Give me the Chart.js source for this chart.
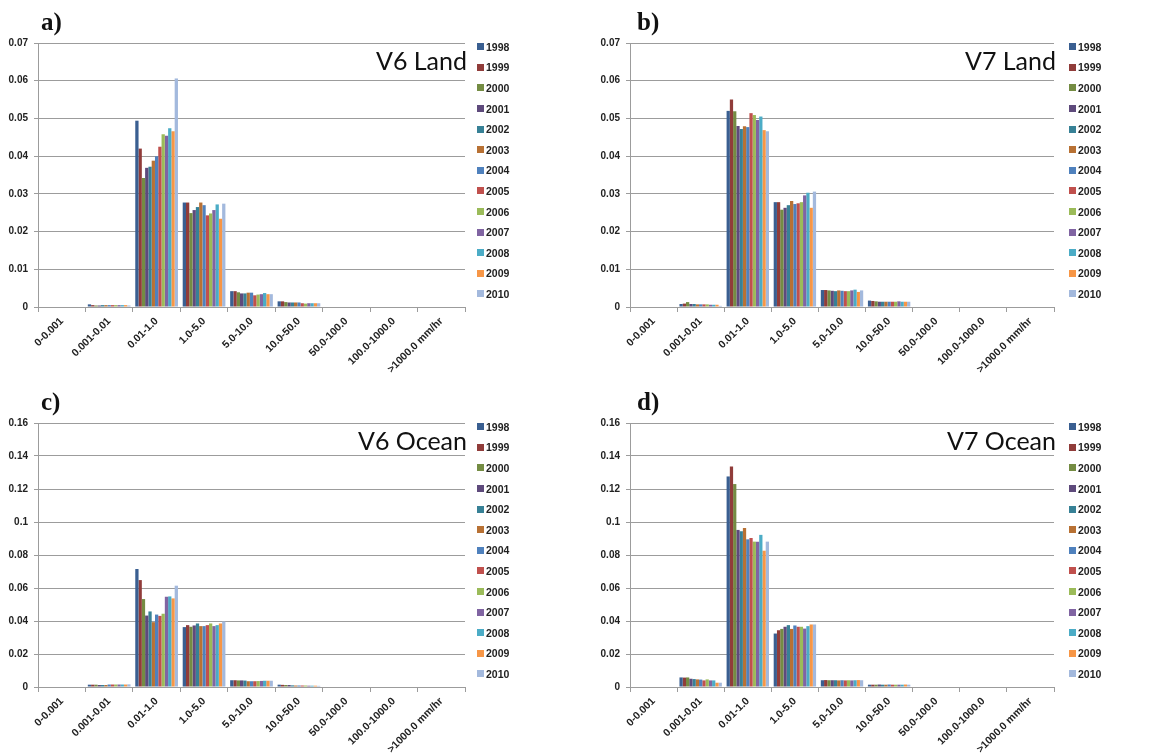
<!DOCTYPE html>
<html>
<head>
<meta charset="utf-8">
<script src="https://cdn.jsdelivr.net/npm/chart.js@4"></script>
<style>
  body { margin: 0; background: #fff; width: 1163px; height: 756px; overflow: hidden; position: relative; }
  .panel { position: absolute; }
  .panel canvas { position: absolute; left: 0; top: 0; }
  .tag { position: absolute; font: bold 25px "Liberation Serif", serif; color: #111; line-height: 1; }
  .legend { position: absolute; list-style: none; margin: 0; padding: 0; }
  .legend li { height: 20.6px; display: flex; align-items: center; font: bold 10.5px "Liberation Sans", sans-serif; color: #222; }
  .legend li span { display: inline-block; width: 7px; height: 7px; margin-right: 2px; }
</style>
</head>
<body>
<div class="panel" id="pa" style="left:0;top:0;width:580px;height:376px"><canvas id="ca" width="580" height="376"></canvas></div>
<div class="panel" id="pb" style="left:580px;top:0;width:583px;height:376px"><canvas id="cb" width="583" height="376"></canvas></div>
<div class="panel" id="pc" style="left:0;top:380px;width:580px;height:376px"><canvas id="cc" width="580" height="376"></canvas></div>
<div class="panel" id="pd" style="left:580px;top:380px;width:583px;height:376px"><canvas id="cd" width="583" height="376"></canvas></div>

<script>
const bins = ['0-0.001', '0.001-0.01', '0.01-1.0', '1.0-5.0', '5.0-10.0', '10.0-50.0', '50.0-100.0', '100.0-1000.0', '>1000.0 mm/hr'];
const years = ['1998', '1999', '2000', '2001', '2002', '2003', '2004', '2005', '2006', '2007', '2008', '2009', '2010'];
const colors = ['#3a5f91', '#903c3a', '#748c43', '#5e4a7c', '#378196', '#b87134',
                '#4f81bd', '#c0504d', '#9bbb59', '#8064a2', '#4bacc6', '#f79646', '#a3b9dd'];

// bins with no rain in any year
const empty = [0, 0, 0, 0, 0, 0, 0, 0, 0, 0, 0, 0, 0];

// V6 Land, one value per year
const v6Land_001 = [0.0007, 0.0005, 0.0004, 0.0004, 0.0005, 0.0005, 0.0005, 0.0005, 0.0005, 0.0005, 0.0005, 0.0005, 0.0004];
const v6Land_1   = [0.0494, 0.0420, 0.0342, 0.0369, 0.0372, 0.0388, 0.0400, 0.0425, 0.0458, 0.0454, 0.0474, 0.0466, 0.0606];
const v6Land_5   = [0.0277, 0.0277, 0.0249, 0.0257, 0.0265, 0.0277, 0.0270, 0.0243, 0.0248, 0.0257, 0.0272, 0.0234, 0.0274];
const v6Land_10  = [0.0042, 0.0042, 0.0039, 0.0036, 0.0036, 0.0038, 0.0038, 0.0031, 0.0033, 0.0034, 0.0037, 0.0034, 0.0034];
const v6Land_50  = [0.0015, 0.0015, 0.0013, 0.0012, 0.0012, 0.0012, 0.0012, 0.0010, 0.0009, 0.0010, 0.0010, 0.0010, 0.0010];

// V7 Land
const v7Land_001 = [0.0008, 0.0009, 0.0013, 0.0008, 0.0008, 0.0007, 0.0007, 0.0007, 0.0007, 0.0006, 0.0006, 0.0006, 0.0003];
const v7Land_1   = [0.0520, 0.0550, 0.0519, 0.0480, 0.0472, 0.0479, 0.0477, 0.0514, 0.0509, 0.0496, 0.0505, 0.0469, 0.0466];
const v7Land_5   = [0.0278, 0.0278, 0.0258, 0.0263, 0.0270, 0.0281, 0.0273, 0.0275, 0.0278, 0.0296, 0.0303, 0.0263, 0.0306];
const v7Land_10  = [0.0045, 0.0045, 0.0044, 0.0043, 0.0042, 0.0044, 0.0043, 0.0042, 0.0042, 0.0044, 0.0046, 0.0040, 0.0044];
const v7Land_50  = [0.0017, 0.0016, 0.0015, 0.0014, 0.0014, 0.0014, 0.0014, 0.0014, 0.0014, 0.0015, 0.0014, 0.0014, 0.0014];

// V6 Ocean
const v6Ocean_001 = [0.0014, 0.0014, 0.0014, 0.0012, 0.0012, 0.0012, 0.0015, 0.0015, 0.0015, 0.0015, 0.0015, 0.0015, 0.0016];
const v6Ocean_1   = [0.0715, 0.0648, 0.0533, 0.0433, 0.0458, 0.0393, 0.0439, 0.0431, 0.0444, 0.0547, 0.0549, 0.0537, 0.0614];
const v6Ocean_5   = [0.0363, 0.0375, 0.0365, 0.0373, 0.0385, 0.0369, 0.0369, 0.0375, 0.0385, 0.0369, 0.0375, 0.0385, 0.0397];
const v6Ocean_10  = [0.0041, 0.0041, 0.0040, 0.0040, 0.0039, 0.0035, 0.0035, 0.0035, 0.0036, 0.0037, 0.0038, 0.0038, 0.0038];
const v6Ocean_50  = [0.0014, 0.0013, 0.0012, 0.0012, 0.0010, 0.0009, 0.0009, 0.0009, 0.0009, 0.0008, 0.0008, 0.0008, 0.0007];

// V7 Ocean
const v7Ocean_001 = [0.0058, 0.0057, 0.0058, 0.0050, 0.0048, 0.0046, 0.0045, 0.0040, 0.0046, 0.0040, 0.0040, 0.0026, 0.0026];
const v7Ocean_1   = [0.1276, 0.1337, 0.1230, 0.0952, 0.0944, 0.0964, 0.0895, 0.0903, 0.0881, 0.0881, 0.0922, 0.0826, 0.0881];
const v7Ocean_5   = [0.0324, 0.0344, 0.0352, 0.0365, 0.0375, 0.0352, 0.0373, 0.0365, 0.0365, 0.0354, 0.0369, 0.0379, 0.0379];
const v7Ocean_10  = [0.0041, 0.0042, 0.0041, 0.0041, 0.0041, 0.0040, 0.0041, 0.0040, 0.0041, 0.0040, 0.0041, 0.0042, 0.0041];
const v7Ocean_50  = [0.0014, 0.0014, 0.0014, 0.0015, 0.0014, 0.0014, 0.0015, 0.0014, 0.0014, 0.0014, 0.0014, 0.0015, 0.0014];

const panels = [
  { canvas: 'ca', panel: 'pa', tag: 'a)', title: 'V6 Land', yMax: 0.07, step: 0.01, axisW: 38, plotRight: 465, legendX: 477, tagX: 41,
    rows: [empty, v6Land_001, v6Land_1, v6Land_5, v6Land_10, v6Land_50, empty, empty, empty] },
  { canvas: 'cb', panel: 'pb', tag: 'b)', title: 'V7 Land', yMax: 0.07, step: 0.01, axisW: 50, plotRight: 474, legendX: 489, tagX: 57,
    rows: [empty, v7Land_001, v7Land_1, v7Land_5, v7Land_10, v7Land_50, empty, empty, empty] },
  { canvas: 'cc', panel: 'pc', tag: 'c)', title: 'V6 Ocean', yMax: 0.16, step: 0.02, axisW: 38, plotRight: 465, legendX: 477, tagX: 41,
    rows: [empty, v6Ocean_001, v6Ocean_1, v6Ocean_5, v6Ocean_10, v6Ocean_50, empty, empty, empty] },
  { canvas: 'cd', panel: 'pd', tag: 'd)', title: 'V7 Ocean', yMax: 0.16, step: 0.02, axisW: 50, plotRight: 474, legendX: 489, tagX: 57,
    rows: [empty, v7Ocean_001, v7Ocean_1, v7Ocean_5, v7Ocean_10, v7Ocean_50, empty, empty, empty] }
];

const gridGray = '#9c9c9c';
const yFont = { family: '"Liberation Sans", sans-serif', weight: 'bold', size: 10 };
const xFont = { family: '"Liberation Sans", sans-serif', weight: 'bold', size: 10.5 };

// big label in the top right corner of the plot
const cornerTitle = {
  id: 'cornerTitle',
  afterDraw(chart, args, opts) {
    const { ctx, chartArea } = chart;
    ctx.save();
    ctx.font = '25px Lato, sans-serif';
    ctx.fillStyle = '#111';
    ctx.textAlign = 'right';
    ctx.textBaseline = 'alphabetic';
    ctx.fillText(opts.text, chartArea.right + 2, chartArea.top + 27);
    ctx.restore();
  }
};

// legend as a list next to the canvas, built from the chart's datasets
function buildLegend(chart, p) {
  const box = document.getElementById(p.panel);
  const ul = document.createElement('ul');
  ul.className = 'legend';
  ul.style.left = p.legendX + 'px';
  ul.style.top = (chart.chartArea.top - 6.5) + 'px';
  chart.data.datasets.forEach(ds => {
    const li = document.createElement('li');
    li.innerHTML = `<span style="background:${ds.backgroundColor}"></span>${ds.label}`;
    ul.appendChild(li);
  });
  box.appendChild(ul);

  const tag = document.createElement('div');
  tag.className = 'tag';
  tag.textContent = p.tag;
  tag.style.left = p.tagX + 'px';
  tag.style.top = '9px';
  box.appendChild(tag);
}

panels.forEach(p => {
  const canvas = document.getElementById(p.canvas);
  const W = canvas.width, H = canvas.height;

  const datasets = years.map((y, i) => ({
    label: y,
    data: p.rows.map(r => r[i]),
    backgroundColor: colors[i],
    borderWidth: 0
  }));

  const chart = new Chart(canvas, {
    type: 'bar',
    data: { labels: bins, datasets: datasets },
    plugins: [cornerTitle],
    options: {
      responsive: false,
      animation: false,
      devicePixelRatio: 1,
      categoryPercentage: 0.9,
      barPercentage: 1.0,
      layout: { padding: { top: 43, right: W - p.plotRight, bottom: 0, left: 0 } },
      plugins: {
        legend: { display: false },
        tooltip: { enabled: false },
        cornerTitle: { text: p.title }
      },
      scales: {
        x: {
          grid: { offset: true, drawOnChartArea: false, tickLength: 5, color: gridGray },
          border: { color: gridGray },
          ticks: { autoSkip: false, maxRotation: 45, minRotation: 45, font: xFont, color: '#222', padding: 3 },
          afterFit: s => { s.height = H - 307; }
        },
        y: {
          min: 0,
          max: p.yMax,
          ticks: {
            stepSize: p.step,
            font: yFont,
            color: '#222',
            padding: 6,
            callback: v => String(+v.toFixed(2))
          },
          grid: { color: gridGray, tickLength: 4, tickColor: gridGray },
          border: { display: true, color: gridGray },
          afterFit: s => { s.width = p.axisW; }
        }
      }
    }
  });

  buildLegend(chart, p);
});
</script>
</body>
</html>
